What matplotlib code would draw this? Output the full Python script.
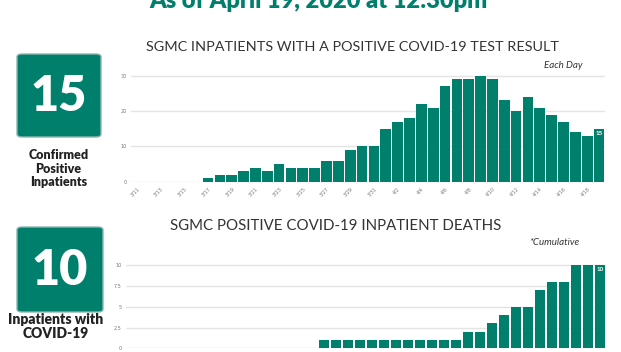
import matplotlib
matplotlib.use("Agg")
import matplotlib.pyplot as plt
from matplotlib.patches import FancyBboxPatch
import numpy as np

# ---- data ----
dates = ["3/11", "3/12", "3/13", "3/14", "3/15", "3/16", "3/17", "3/18", "3/19", "3/20",
         "3/21", "3/22", "3/23", "3/24", "3/25", "3/26", "3/27", "3/28", "3/29", "3/30",
         "3/31", "4/1", "4/2", "4/3", "4/4", "4/5", "4/6", "4/7", "4/8", "4/9",
         "4/10", "4/11", "4/12", "4/13", "4/14", "4/15", "4/16", "4/17", "4/18", "4/19"]
inpatients = [0, 0, 0, 0, 0, 0, 1, 2, 2, 3,
              4, 3, 5, 4, 4, 4, 6, 6, 9, 10,
              10, 15, 17, 18, 22, 21, 27, 29, 29, 30,
              29, 23, 20, 24, 21, 19, 17, 14, 13, 15]
deaths = [0, 0, 0, 0, 0, 0, 0, 0, 0, 0,
          0, 0, 0, 0, 0, 0, 1, 1, 1, 1,
          1, 1, 1, 1, 1, 1, 1, 1, 2, 2,
          3, 4, 5, 5, 7, 8, 8, 10, 10, 10]
top_yticks = [0, 10, 20, 30]
bot_yticks = [0, 2.5, 5, 7.5, 10]
bot_yticklabels = ["0", "2.5", "5", "7.5", "10"]
confirmed_total = "15"
deaths_total = "10"

TEAL = "#007f6d"
W, H = 621, 352
fig = plt.figure(figsize=(W / 100, H / 100), dpi=100)
fig.patch.set_facecolor("white")

def fx(px):
    return px / W

def fy(py):
    return 1 - py / H

def style_axes(ax, yticks, yticklabels, ylim, show_x=True):
    for s in ax.spines.values():
        s.set_visible(False)
    ax.set_ylim(*ylim)
    ax.set_xlim(-0.5, len(dates) - 0.5)
    ax.set_yticks(yticks)
    ax.set_yticklabels(yticklabels)
    ax.grid(axis="y", color="#e4e4e4", linewidth=1.0)
    ax.set_axisbelow(True)
    ax.tick_params(axis="y", length=0, labelsize=3.5, labelcolor="#777777", pad=3)
    ax.tick_params(axis="x", length=0, labelsize=3.5, labelcolor="#777777", pad=3,
                   labelbottom=show_x)
    x = np.arange(len(dates))
    ax.set_xticks(x[::2])
    ax.set_xticklabels(dates[::2], rotation=45, ha="right", rotation_mode="anchor")

x = np.arange(len(dates))

# top chart
ax1 = fig.add_axes([fx(131), fy(181.7), fx(605 - 131), (181.7 - 68.7) / H])
ax1.bar(x, inpatients, width=0.9, color=TEAL, edgecolor="none")
style_axes(ax1, top_yticks, [str(v) for v in top_yticks], (0, 32))
ax1.text(x[-1], inpatients[-1] - 0.6, str(inpatients[-1]), color="white", fontsize=4.5,
         fontweight="bold", ha="center", va="top", family="Lato")

# bottom chart (its date labels fall below the visible picture)
ax2 = fig.add_axes([fx(126), fy(348.3), fx(606 - 126), (348.3 - 261) / H])
ax2.bar(x, deaths, width=0.86, color=TEAL, edgecolor="none")
style_axes(ax2, bot_yticks, bot_yticklabels, (0, 10.5), show_x=False)
ax2.text(x[-1], deaths[-1] - 0.25, str(deaths[-1]), color="white", fontsize=4.5,
         fontweight="bold", ha="center", va="top", family="Lato")

# header
fig.text(fx(318), fy(8), "As of April 19, 2020 at 12:30pm", color=TEAL, fontsize=17,
         fontweight="heavy", ha="center", va="baseline", family="Lato")

# chart titles
fig.text(fx(352), fy(47), "SGMC INPATIENTS WITH A POSITIVE COVID-19 TEST RESULT",
         color="#333333", fontsize=10.4, ha="center", va="center", family="Lato")
fig.text(fx(336), fy(226), "SGMC POSITIVE COVID-19 INPATIENT DEATHS",
         color="#333333", fontsize=10.8, ha="center", va="center", family="Lato")
fig.text(fx(582), fy(65), "Each Day", color="#333333", fontsize=7, style="italic",
         ha="right", va="center", family="Lato")
fig.text(fx(579), fy(242.5), "*Cumulative", color="#333333", fontsize=7, style="italic",
         ha="right", va="center", family="Lato")

# left boxes
def big_box(x0, y0, x1, y1, number):
    box = FancyBboxPatch((fx(x0), fy(y1)), fx(x1 - x0), (y1 - y0) / H,
                         boxstyle="round,pad=0,rounding_size=0.008",
                         transform=fig.transFigure, facecolor=TEAL,
                         edgecolor="#8fb5ad", linewidth=1.0)
    fig.patches.append(box)
    fig.text(fx((x0 + x1) / 2), fy((y0 + y1) / 2 + 1), number, color="white",
             fontsize=35, fontweight="heavy", ha="center", va="center", family="Lato")

big_box(17, 54, 101, 137, confirmed_total)
big_box(17, 227, 103, 312, deaths_total)

fig.text(fx(58.5), fy(168.5), "Confirmed\nPositive\nInpatients", color="#222222",
         fontsize=9, fontweight="heavy", ha="center", va="center", family="Lato",
         linespacing=1.12)
fig.text(fx(56), fy(326.5), "Inpatients with\nCOVID-19", color="#222222",
         fontsize=10, fontweight="heavy", ha="center", va="center", family="Lato",
         linespacing=1.05)

fig.savefig("out.png", dpi=100, facecolor="white")
